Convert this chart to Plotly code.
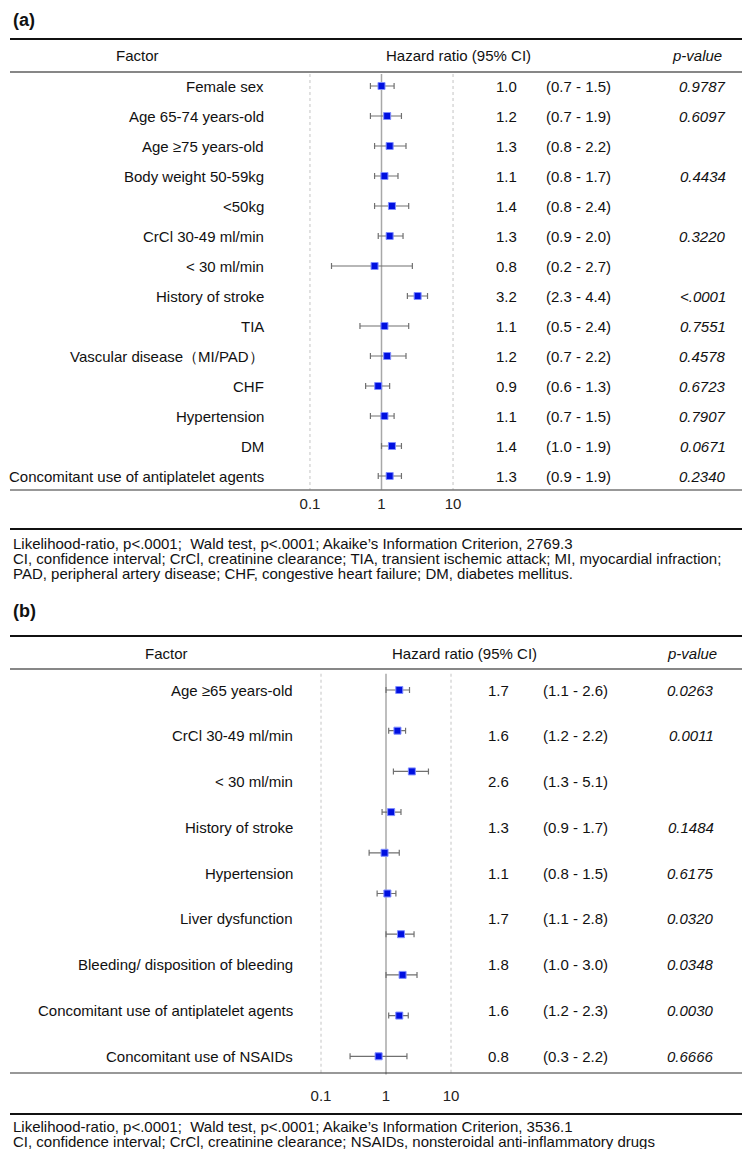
import plotly.graph_objects as go

W, H = 750, 1149
FONT = "Arial, Liberation Sans, sans-serif"

# ---------------- data: panel (a) ----------------
factors_a = ["Female sex", "Age 65-74 years-old", "Age ≥75 years-old", "Body weight 50-59kg",
             "<50kg", "CrCl 30-49 ml/min", "< 30 ml/min", "History of stroke", "TIA",
             "Vascular disease（MI/PAD）", "CHF", "Hypertension", "DM",
             "Concomitant use of antiplatelet agents"]
hr_a = [1.0, 1.2, 1.3, 1.1, 1.4, 1.3, 0.8, 3.2, 1.1, 1.2, 0.9, 1.1, 1.4, 1.3]
lo_a = [0.7, 0.7, 0.8, 0.8, 0.8, 0.9, 0.2, 2.3, 0.5, 0.7, 0.6, 0.7, 1.0, 0.9]
hi_a = [1.5, 1.9, 2.2, 1.7, 2.4, 2.0, 2.7, 4.4, 2.4, 2.2, 1.3, 1.5, 1.9, 1.9]
p_a = ["0.9787", "0.6097", "", "0.4434", "", "0.3220", "", "<.0001", "0.7551",
       "0.4578", "0.6723", "0.7907", "0.0671", "0.2340"]
foot_a = ["Likelihood-ratio, p<.0001;  Wald test, p<.0001; Akaike’s Information Criterion, 2769.3",
          "CI, confidence interval; CrCl, creatinine clearance; TIA, transient ischemic attack; MI, myocardial infraction;",
          "PAD, peripheral artery disease; CHF, congestive heart failure; DM, diabetes mellitus."]

# ---------------- data: panel (b) ----------------
factors_b = ["Age ≥65 years-old", "CrCl 30-49 ml/min", "< 30 ml/min", "History of stroke",
             "Hypertension", "Liver dysfunction", "Bleeding/ disposition of bleeding",
             "Concomitant use of antiplatelet agents", "Concomitant use of NSAIDs"]
hr_b = [1.7, 1.6, 2.6, 1.3, 1.1, 1.7, 1.8, 1.6, 0.8]
lo_b = [1.1, 1.2, 1.3, 0.9, 0.8, 1.1, 1.0, 1.2, 0.3]
hi_b = [2.6, 2.2, 5.1, 1.7, 1.5, 2.8, 3.0, 2.3, 2.2]
p_b = ["0.0263", "0.0011", "", "0.1484", "0.6175", "0.0320", "0.0348", "0.0030", "0.6666"]
# plotted points in panel (b) as drawn (the drawn forest has one extra, unlabeled point)
plot_hr_b = [1.6, 1.5, 2.5, 1.2, 0.95, 1.05, 1.7, 1.8, 1.6, 0.77]
plot_lo_b = [1.0, 1.1, 1.3, 0.87, 0.55, 0.73, 1.0, 1.0, 1.1, 0.28]
plot_hi_b = [2.3, 2.0, 4.5, 1.7, 1.6, 1.42, 2.7, 3.0, 2.2, 2.1]
foot_b = ["Likelihood-ratio, p<.0001;  Wald test, p<.0001; Akaike’s Information Criterion, 3536.1",
          "CI, confidence interval; CrCl, creatinine clearance; NSAIDs, nonsteroidal anti-inflammatory drugs"]

tick_vals = [0.1, 1, 10]
tick_text = ["0.1", "1", "10"]


def fx(px):
    return px / W


def fy(py):
    return 1 - py / H


fig = go.Figure()

MARK = dict(symbol="square", size=7, color="#0010e0", line=dict(color="#7f8cff", width=1))
EBAR = dict(type="data", symmetric=False, color="#707070", thickness=1.2, width=3)

fig.add_trace(go.Scatter(
    x=hr_a, y=list(range(len(hr_a))), mode="markers", marker=MARK,
    error_x=dict(EBAR, array=[h - m for h, m in zip(hi_a, hr_a)],
                 arrayminus=[m - l for m, l in zip(hr_a, lo_a)]),
    xaxis="x", yaxis="y", showlegend=False, hoverinfo="skip"))

fig.add_trace(go.Scatter(
    x=plot_hr_b, y=list(range(len(plot_hr_b))), mode="markers", marker=MARK,
    error_x=dict(EBAR, array=[h - m for h, m in zip(plot_hi_b, plot_hr_b)],
                 arrayminus=[m - l for m, l in zip(plot_hr_b, plot_lo_b)]),
    xaxis="x2", yaxis="y2", showlegend=False, hoverinfo="skip"))

# layout geometry (pixels)
A_ROW0, A_STEP = 78, 30.0
B_ROW0, B_STEP = 682, 40.7
na, nb = len(hr_a), len(plot_hr_b)
a_top, a_bot = A_ROW0 - A_STEP / 2, A_ROW0 + (na - 0.5) * A_STEP
b_top, b_bot = B_ROW0 - B_STEP / 2, B_ROW0 + (nb - 0.5) * B_STEP

axis_common = dict(type="log", range=[-1.3, 1.3], tickvals=tick_vals, ticktext=tick_text,
                   showgrid=False, zeroline=False, showline=False, ticks="",
                   tickfont=dict(size=15, color="#222", family=FONT))
fig.update_layout(
    width=W, height=H, margin=dict(l=0, r=0, t=0, b=0),
    paper_bgcolor="white", plot_bgcolor="rgba(0,0,0,0)",
    font=dict(family=FONT, size=15, color="#222"),
    xaxis=dict(axis_common, domain=[fx(373.5 - 93), fx(373.5 + 93)], anchor="y",
               ticklabelstandoff=2),
    yaxis=dict(domain=[fy(a_bot), fy(a_top)], range=[na - 0.5, -0.5], visible=False),
    xaxis2=dict(axis_common, domain=[fx(378 - 84.5), fx(378 + 84.5)], anchor="y2",
                ticklabelstandoff=8),
    yaxis2=dict(domain=[fy(b_bot), fy(b_top)], range=[nb - 0.5, -0.5], visible=False),
)

shapes = []
anns = []


def hline(py, width, color="#111"):
    shapes.append(dict(type="line", xref="paper", yref="paper", x0=fx(2), x1=1,
                       y0=fy(py), y1=fy(py), line=dict(color=color, width=width)))


def text(px, py, s, anchor="center", size=15, bold=False, italic=False, yref="paper"):
    t = f"<b>{s}</b>" if bold else s
    t = f"<i>{t}</i>" if italic else t
    anns.append(dict(x=fx(px), y=(fy(py) if yref == "paper" else py), xref="paper", yref=yref,
                     text=t, showarrow=False, xanchor=anchor, yanchor="middle",
                     font=dict(size=size, family=FONT, color="#111")))


def refs(xref, yref, n):
    for v in tick_vals:
        shapes.append(dict(type="line", xref=xref, yref=yref, x0=v, x1=v, y0=-0.4, y1=n - 0.55,
                           line=dict(color="#a8a8a8" if v == 1 else "#c4c4c4",
                                     width=1.5 if v == 1 else 1,
                                     dash="solid" if v == 1 else "dot"), layer="below"))


# ---------------- panel (a) ----------------
text(3, 12, "(a)", anchor="left", size=18, bold=True)
hline(31, 2.2)
text(129, 47, "Factor")
text(450, 47, "Hazard ratio (95% CI)")
text(689, 47, "p-value", italic=True)
hline(64, 1.2)
for i, name in enumerate(factors_a):
    text(258, i, name, anchor="right", yref="y")
    text(498, i, f"{hr_a[i]:.1f}", yref="y")
    text(536, i, f"({lo_a[i]:.1f} - {hi_a[i]:.1f})", anchor="left", yref="y")
    if p_a[i]:
        text(720, i, p_a[i], anchor="right", italic=True, yref="y")
refs("x", "y", na)
hline(482, 1.2, "#333")
hline(521, 2.0)
for k, line in enumerate(foot_a):
    text(3, 535 + 15 * k, line, anchor="left")

# ---------------- panel (b) ----------------
text(3, 603, "(b)", anchor="left", size=18, bold=True)
hline(628, 2.2)
text(158, 645, "Factor")
text(457, 645, "Hazard ratio (95% CI)")
text(684, 645, "p-value", italic=True)
hline(661, 1.2)
lab_step = (nb - 1) / (len(factors_b) - 1)
for i, name in enumerate(factors_b):
    yy = i * lab_step
    text(287, yy, name, anchor="right", yref="y2")
    text(490, yy, f"{hr_b[i]:.1f}", yref="y2")
    text(533, yy, f"({lo_b[i]:.1f} - {hi_b[i]:.1f})", anchor="left", yref="y2")
    if p_b[i]:
        text(708, yy, p_b[i], anchor="right", italic=True, yref="y2")
refs("x2", "y2", nb)
hline(1065, 1.2, "#333")
hline(1106, 2.0)
for k, line in enumerate(foot_b):
    text(3, 1118 + 15 * k, line, anchor="left")

fig.update_layout(shapes=shapes, annotations=anns)
fig.write_html("out.html")
